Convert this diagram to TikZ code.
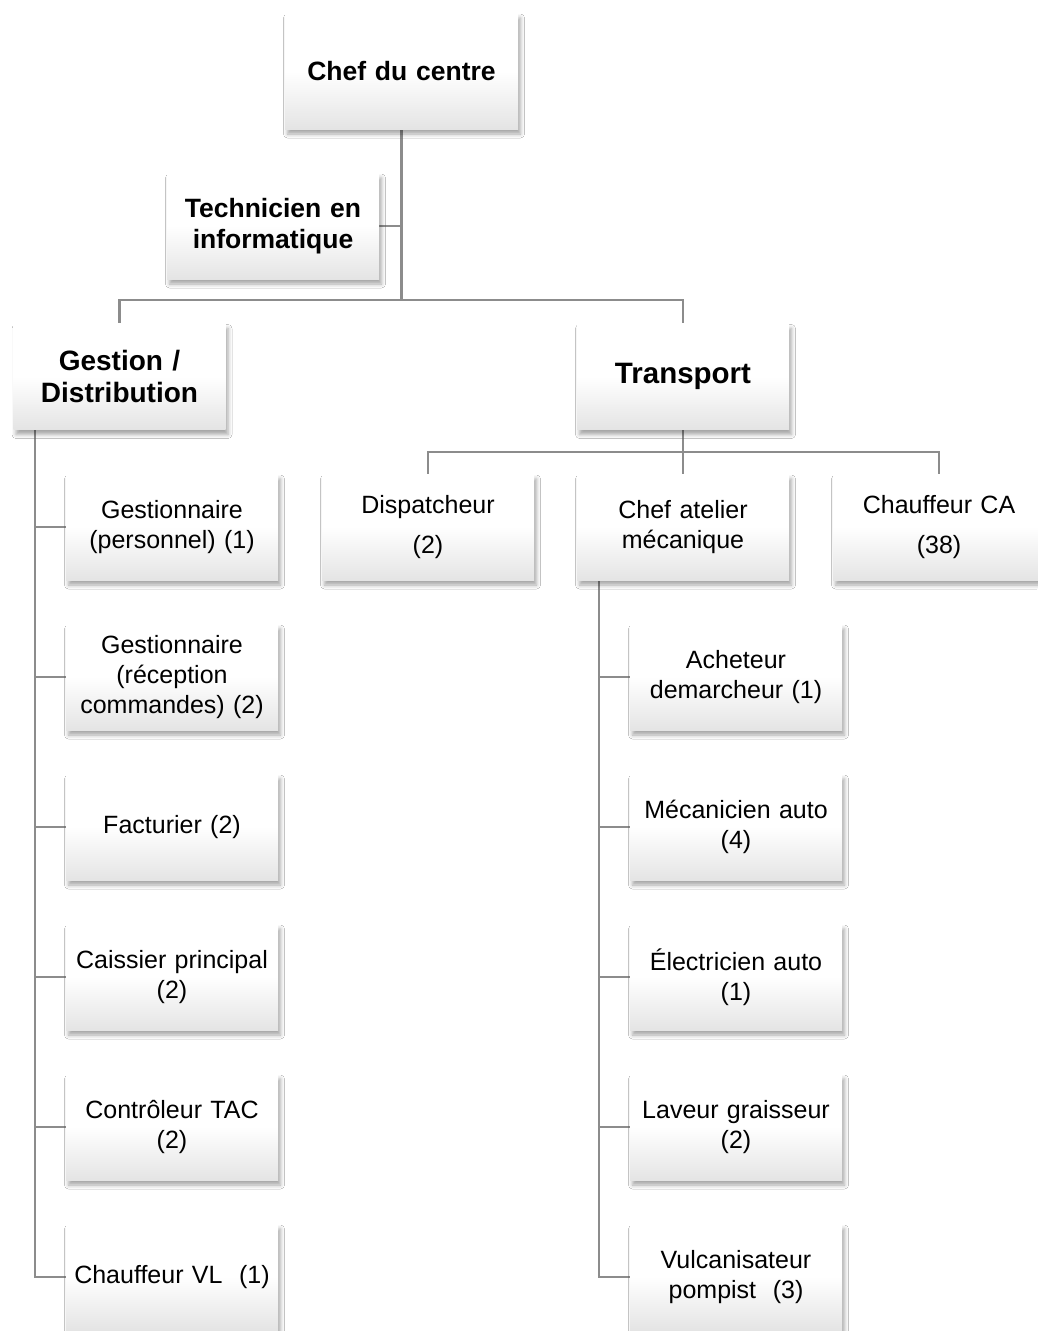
\documentclass[tikz,border=0pt]{standalone}
\usepackage{fontspec}
\setmainfont{Liberation Sans}
\usetikzlibrary{shadows.blur,backgrounds,calc}
\definecolor{linegray}{RGB}{140,140,140}
\definecolor{boxbottom}{RGB}{228,228,228}
\tikzset{
  box/.style={shape=rectangle, minimum width=212pt, minimum height=106pt, text width=206pt,
    align=center, inner sep=0pt, top color=white, bottom color=boxbottom, middle color=white,
    blur shadow={shadow xshift=2.5pt, shadow yshift=-5pt, shadow blur radius=4pt, shadow opacity=35},
    font=\fontsize{25}{30}\selectfont},
  boldbox/.style={box, font=\fontsize{26.5}{31}\selectfont\bfseries},
  conn/.style={draw=linegray, line width=2.6pt}
}
\begin{document}
\begin{tikzpicture}[x=1pt,y=-1pt]
\useasboundingbox (0,0) rectangle (1037,1331);
% top
\node[boldbox, minimum width=233pt, minimum height=116pt] (chef) at (401.5,71) {Chef du centre};
\node[boldbox] (tech) at (273,226) {Technicien en\\informatique};
\node[boldbox, font=\fontsize{28}{32}\selectfont\bfseries] (gest) at (119.5,376.5) {Gestion /\\Distribution};
\node[boldbox, font=\fontsize{29.5}{34}\selectfont\bfseries] (trans) at (683,376.5) {Transport};
% transport children
\node[box] (disp) at (428,527) {Dispatcheur\\[10pt](2)};
\node[box] (chat) at (683,527) {Chef atelier\\mécanique};
\node[box] (chca) at (939,527) {Chauffeur CA\\[10pt](38)};
% gestion children
\node[box] (g1) at (172,527) {Gestionnaire\\(personnel) (1)};
\node[box] (g2) at (172,677) {Gestionnaire\\(réception\\commandes) (2)};
\node[box] (g3) at (172,827) {Facturier (2)};
\node[box] (g4) at (172,977) {Caissier principal\\(2)};
\node[box] (g5) at (172,1127) {Contrôleur TAC\\(2)};
\node[box] (g6) at (172,1277) {Chauffeur VL~~(1)};
% atelier children
\node[box] (a1) at (736,677) {Acheteur\\demarcheur (1)};
\node[box] (a2) at (736,827) {Mécanicien auto\\(4)};
\node[box] (a3) at (736,977) {Électricien auto\\(1)};
\node[box] (a4) at (736,1127) {Laveur graisseur\\(2)};
\node[box] (a5) at (736,1277) {Vulcanisateur\\pompist~~(3)};
\begin{scope}[on background layer]
\fill[white] (0,0) rectangle (1037,1331);
\coordinate (j1) at (chef.south |- 0,300);
\draw[conn] (chef.south) -- (j1);
\draw[conn] (tech.east) -- (tech.east -| chef.south);
\draw[conn] (gest.north) |- (j1) -| (trans.north);
\coordinate (tj) at (trans.south |- 0,452);
\draw[conn] (trans.south) -- (tj);
\draw[conn] (disp.north) |- (tj) -| (chca.north);
\draw[conn] (tj) -- (chat.north);
\coordinate (gx) at (35,0 |- gest.south);
\draw[conn] (gx) |- (g6.west);
\foreach \n in {g1,g2,g3,g4,g5} \draw[conn] (gx |- \n.west) -- (\n.west);
\coordinate (ax) at (599,0 |- chat.south);
\draw[conn] (ax) |- (a5.west);
\foreach \n in {a1,a2,a3,a4} \draw[conn] (ax |- \n.west) -- (\n.west);
\end{scope}
\end{tikzpicture}
\end{document}
